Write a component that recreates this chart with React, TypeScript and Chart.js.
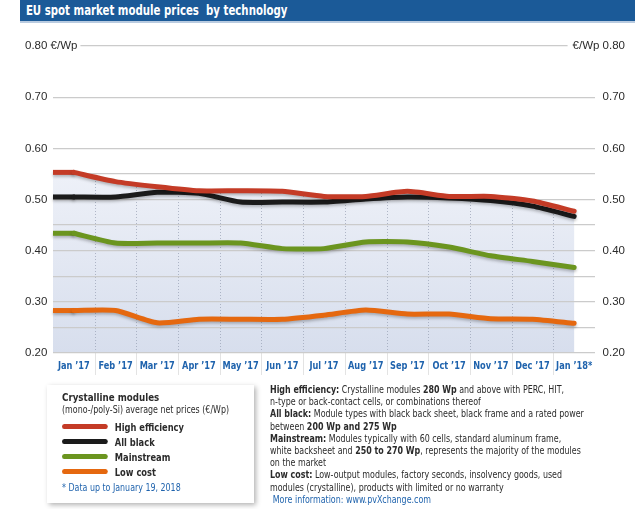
import React, { useEffect, useRef } from "react";
import { Chart, registerables } from "chart.js";

Chart.register(...registerables);

// ---- data ----
const months = ["Jan \u201917", "Feb \u201917", "Mar \u201917", "Apr \u201917", "May \u201917", "Jun \u201917", "Jul \u201917", "Aug \u201917", "Sep \u201917", "Oct \u201917", "Nov \u201917", "Dec \u201917", "Jan \u201918*"];
const highEfficiency = [0.553, 0.535, 0.525, 0.517, 0.517, 0.516, 0.506, 0.506, 0.516, 0.506, 0.506, 0.497, 0.477];
const allBlack = [0.505, 0.505, 0.514, 0.512, 0.495, 0.495, 0.495, 0.501, 0.505, 0.503, 0.498, 0.487, 0.467];
const mainstream = [0.434, 0.415, 0.415, 0.415, 0.415, 0.404, 0.404, 0.417, 0.417, 0.407, 0.39, 0.379, 0.367];
const lowCost = [0.283, 0.283, 0.259, 0.266, 0.266, 0.266, 0.274, 0.284, 0.276, 0.276, 0.267, 0.266, 0.258];
const seriesNames = ["High efficiency", "All black", "Mainstream", "Low cost"];
const seriesColors = ["#c43b26", "#1b1b1b", "#6b951f", "#e5680f"];
const seriesValues = [highEfficiency, allBlack, mainstream, lowCost];
const yMin = 0.2;
const yMax = 0.8;
const yLabelValues = [0.2, 0.3, 0.4, 0.5, 0.6, 0.7, 0.8];
const yLeftLabels = ["0.20", "0.30", "0.40", "0.50", "0.60", "0.70", "0.80 \u20ac/Wp"];
const yRightLabels = ["0.20", "0.30", "0.40", "0.50", "0.60", "0.70", "\u20ac/Wp 0.80"];
const hiddenGrid = [0.65, 0.75];

const COND = '"DejaVu Sans Condensed", "Liberation Sans Narrow", sans-serif';
const BLUE = "#1f63ad";
const TEXT = "#2b2b2b";

const shadePlugin = {
  id: "shade",
  beforeDraw(chart: any) {
    const { ctx, chartArea: a } = chart;
    const pts = chart.getDatasetMeta(0).data;
    if (!pts || !pts.length) return;
    const ys = chart.scales.y;
    const xs = chart.scales.x;
    ctx.save();
    ctx.beginPath();
    ctx.moveTo(a.left, pts[0].y);
    pts.forEach((p: any) => ctx.lineTo(p.x, p.y));
    ctx.lineTo(pts[pts.length - 1].x, a.bottom);
    ctx.lineTo(a.left, a.bottom);
    ctx.closePath();
    const g = ctx.createLinearGradient(0, ys.getPixelForValue(0.56), 0, a.bottom);
    g.addColorStop(0, "#eef1f8");
    g.addColorStop(1, "#d7deed");
    ctx.fillStyle = g;
    ctx.fill();
    ctx.clip();
    ctx.strokeStyle = "rgba(150,158,178,0.7)";
    ctx.lineWidth = 1;
    ctx.setLineDash([1, 2]);
    for (let i = 1; i < months.length; i++) {
      const x = Math.round((xs.getPixelForValue(i - 1) + xs.getPixelForValue(i)) / 2) + 0.5;
      ctx.beginPath();
      ctx.moveTo(x, a.top);
      ctx.lineTo(x, a.bottom);
      ctx.stroke();
    }
    ctx.restore();
    ctx.save();
    ctx.strokeStyle = "#e3e3e3";
    ctx.lineWidth = 1;
    for (let i = 1; i < months.length; i++) {
      const x = Math.round((xs.getPixelForValue(i - 1) + xs.getPixelForValue(i)) / 2) + 0.5;
      ctx.beginPath();
      ctx.moveTo(x, a.bottom);
      ctx.lineTo(x, a.bottom + 22);
      ctx.stroke();
    }
    ctx.restore();
  },
};

const shadowPlugin = {
  id: "lineShadow",
  beforeDatasetsDraw(chart: any) {
    const { ctx, chartArea: a } = chart;
    for (let d = chart.data.datasets.length - 1; d >= 0; d--) {
      const pts = chart.getDatasetMeta(d).data;
      if (!pts.length) continue;
      ctx.save();
      ctx.shadowColor = "rgba(0,0,0,0.25)";
      ctx.shadowBlur = 3;
      ctx.shadowOffsetY = 2;
      ctx.strokeStyle = chart.data.datasets[d].borderColor;
      ctx.lineWidth = 5;
      ctx.lineCap = "butt";
      ctx.beginPath();
      ctx.moveTo(a.left, pts[0].y);
      ctx.lineTo(pts[0].x + 1, pts[0].y);
      ctx.stroke();
      ctx.restore();
    }
  },
  beforeDatasetDraw(chart: any) {
    const ctx = chart.ctx;
    ctx.save();
    ctx.shadowColor = "rgba(0,0,0,0.25)";
    ctx.shadowBlur = 3;
    ctx.shadowOffsetY = 2;
  },
  afterDatasetDraw(chart: any) {
    chart.ctx.restore();
  },
};

const labelsPlugin = {
  id: "labels",
  afterDraw(chart: any) {
    const { ctx, chartArea: a } = chart;
    const ys = chart.scales.y;
    const xs = chart.scales.x;
    ctx.save();
    ctx.font = '11.5px "Liberation Sans", Arial, sans-serif';
    ctx.textBaseline = "middle";
    yLabelValues.forEach((v, i) => {
      const y = ys.getPixelForValue(v);
      ctx.textAlign = "left";
      const lw = ctx.measureText(yLeftLabels[i]).width;
      if (lw + 25 > a.left) {
        ctx.fillStyle = "#ffffff";
        ctx.fillRect(a.left - 2, y - 3, lw + 25 - a.left + 5, 6);
      }
      ctx.fillStyle = TEXT;
      ctx.fillText(yLeftLabels[i], 25, y);
      ctx.textAlign = "right";
      const rw = ctx.measureText(yRightLabels[i]).width;
      if (625 - rw < a.right) {
        ctx.fillStyle = "#ffffff";
        ctx.fillRect(625 - rw - 5, y - 3, a.right - (625 - rw - 5) + 2, 6);
      }
      ctx.fillStyle = TEXT;
      ctx.fillText(yRightLabels[i], 625, y);
    });
    ctx.font = `bold 11px ${COND}`;
    ctx.fillStyle = BLUE;
    ctx.textAlign = "center";
    months.forEach((m, i) => {
      ctx.save();
      ctx.translate(xs.getPixelForValue(i), a.bottom + 13);
      ctx.scale(0.83, 1);
      ctx.fillText(m, 0, 0);
      ctx.restore();
    });
    ctx.restore();
  },
};

function ChartCanvas() {
  const ref = useRef<HTMLCanvasElement | null>(null);
  useEffect(() => {
    if (!ref.current) return;
    const chart = new Chart(ref.current, {
      type: "line",
      data: {
        labels: months,
        datasets: seriesNames.map((name, i) => ({
          label: name,
          data: seriesValues[i],
          borderColor: seriesColors[i],
          backgroundColor: seriesColors[i],
          borderWidth: 5,
          pointRadius: 0,
          tension: 0.2,
          borderCapStyle: "round" as const,
          borderJoinStyle: "round" as const,
          fill: false,
        })),
      },
      options: {
        responsive: false,
        animation: false,
        layout: { padding: { left: 53, right: 40, top: 46, bottom: 156 } },
        plugins: { legend: { display: false }, tooltip: { enabled: false } },
        scales: {
          x: { type: "category", offset: true, display: false },
          y: {
            min: yMin,
            max: yMax,
            border: { display: false },
            ticks: { display: false, stepSize: 0.05 },
            afterFit: (s: any) => {
              s.width = 0;
            },
            grid: {
              drawTicks: false,
              lineWidth: 1.3,
              color: (c: any) =>
                hiddenGrid.some((h) => Math.abs(c.tick?.value - h) < 1e-6) ? "rgba(0,0,0,0)" : "#cbcbcb",
            },
          },
        },
      },
      plugins: [shadePlugin, shadowPlugin, labelsPlugin],
    });
    return () => chart.destroy();
  }, []);
  return <canvas ref={ref} width={635} height={509} style={{ position: "absolute", left: 0, top: 0 }} />;
}

const squeeze = (s: number): React.CSSProperties => ({
  transform: `scaleX(${s})`,
  transformOrigin: "left top",
  whiteSpace: "nowrap",
});

export default function App() {
  return (
    <div
      style={{
        position: "fixed",
        left: 0,
        top: 0,
        width: 635,
        height: 509,
        background: "#fff",
        overflow: "hidden",
        fontFamily: COND,
        color: TEXT,
      }}
    >
      <ChartCanvas />
      <div
        style={{
          position: "absolute",
          left: 20,
          top: 0,
          width: 615,
          height: 21,
          background: "#1b5a98",
          borderBottom: "2px solid #b9cbe0",
          boxSizing: "content-box",
        }}
      >
        <div
          style={{
            ...squeeze(0.84),
            color: "#fff",
            fontWeight: "bold",
            fontSize: 13.5,
            lineHeight: "21px",
            paddingLeft: 7,
          }}
        >
          EU spot market module prices &nbsp;by technology
        </div>
      </div>
      <div
        style={{
          position: "absolute",
          left: 47,
          top: 385,
          width: 207,
          height: 118,
          background: "#fff",
          boxShadow: "2px 2px 5px rgba(0,0,0,0.3)",
          paddingLeft: 15,
          paddingTop: 6,
          boxSizing: "border-box",
        }}
      >
        <div style={{ ...squeeze(0.88), fontSize: 10 }}>
          <div style={{ fontWeight: "bold", fontSize: 11, lineHeight: "13px" }}>Crystalline modules</div>
          <div style={{ lineHeight: "12px", marginBottom: 3 }}>(mono-/poly-Si) average net prices (€/Wp)</div>
          {seriesNames.map((n, i) => (
            <div key={n} style={{ display: "flex", alignItems: "center", height: 15 }}>
              <div style={{ width: 52, height: 5, borderRadius: 3, background: seriesColors[i], marginRight: 8 }} />
              <span style={{ fontWeight: "bold", fontSize: 10.5 }}>{n}</span>
            </div>
          ))}
          <div style={{ color: BLUE, marginTop: 2, lineHeight: "13px" }}>* Data up to January 19, 2018</div>
        </div>
      </div>
      <div
        style={{
          position: "absolute",
          left: 270,
          top: 384,
          fontSize: 9.6,
          lineHeight: "12.2px",
          ...squeeze(0.92),
        }}
      >
        <div>
          <b>High efficiency:</b> Crystalline modules <b>280 Wp</b> and above with PERC, HIT,
        </div>
        <div>n-type or back-contact cells, or combinations thereof</div>
        <div>
          <b>All black:</b> Module types with black back sheet, black frame and a rated power
        </div>
        <div>
          between <b>200 Wp and 275 Wp</b>
        </div>
        <div>
          <b>Mainstream:</b> Modules typically with 60 cells, standard aluminum frame,
        </div>
        <div>
          white backsheet and <b>250 to 270 Wp</b>, represents the majority of the modules
        </div>
        <div>on the market</div>
        <div>
          <b>Low cost:</b> Low-output modules, factory seconds, insolvency goods, used
        </div>
        <div>modules (crystalline), products with limited or no warranty</div>
        <div style={{ color: BLUE, paddingLeft: 3 }}>More information: www.pvXchange.com</div>
      </div>
    </div>
  );
}
